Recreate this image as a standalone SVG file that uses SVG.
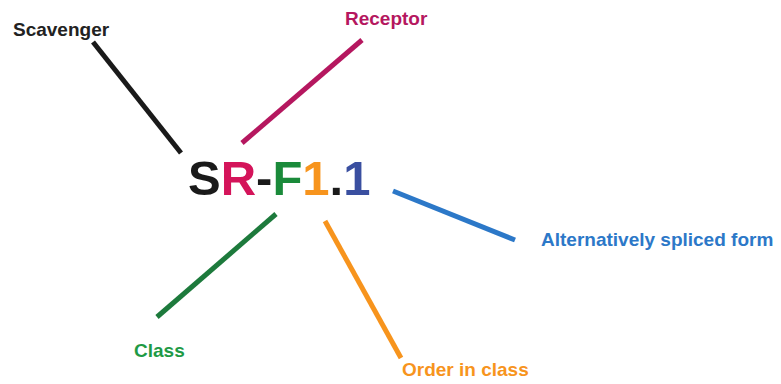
<svg xmlns="http://www.w3.org/2000/svg" width="781" height="384" viewBox="0 0 781 384">
<style>
.lbl{font-family:"Liberation Sans",Arial,sans-serif;font-weight:bold;font-size:19px}
.big{font-family:"Liberation Sans",Arial,sans-serif;font-weight:bold;font-size:49px}
line{stroke-width:5;stroke-linecap:butt}
</style>
<rect width="781" height="384" fill="#fff"/>
<g id="connectors">
<line x1="93" y1="42" x2="181" y2="153" stroke="#1a1a1a"/>
<line x1="362" y1="40" x2="242" y2="143" stroke="#b5175f"/>
<line x1="276" y1="214" x2="157" y2="317" stroke="#1d7a3c"/>
<line x1="325" y1="221" x2="401" y2="358" stroke="#f7941d"/>
<line x1="393" y1="191" x2="515" y2="240" stroke="#2c78c8"/>
</g>
<g id="center"><text class="big" x="188" y="195"><tspan fill="#1a1a1a">S</tspan><tspan fill="#d4145a">R</tspan><tspan fill="#1a1a1a">-</tspan><tspan fill="#1a8a3a">F</tspan><tspan fill="#f7941d">1</tspan><tspan fill="#1a1a1a">.</tspan><tspan fill="#3a4fa0">1</tspan></text></g>
<g id="scavenger"><text class="lbl" x="13" y="36" fill="#222">Scavenger</text></g>
<g id="receptor"><text class="lbl" x="345" y="25" fill="#b5175f">Receptor</text></g>
<g id="spliced"><text class="lbl" x="541" y="246" fill="#2c78c8">Alternatively spliced form</text></g>
<g id="class"><text class="lbl" x="134" y="357" fill="#1e9a45">Class</text></g>
<g id="order"><text class="lbl" x="402" y="376" fill="#f7941d">Order in class</text></g>
</svg>
